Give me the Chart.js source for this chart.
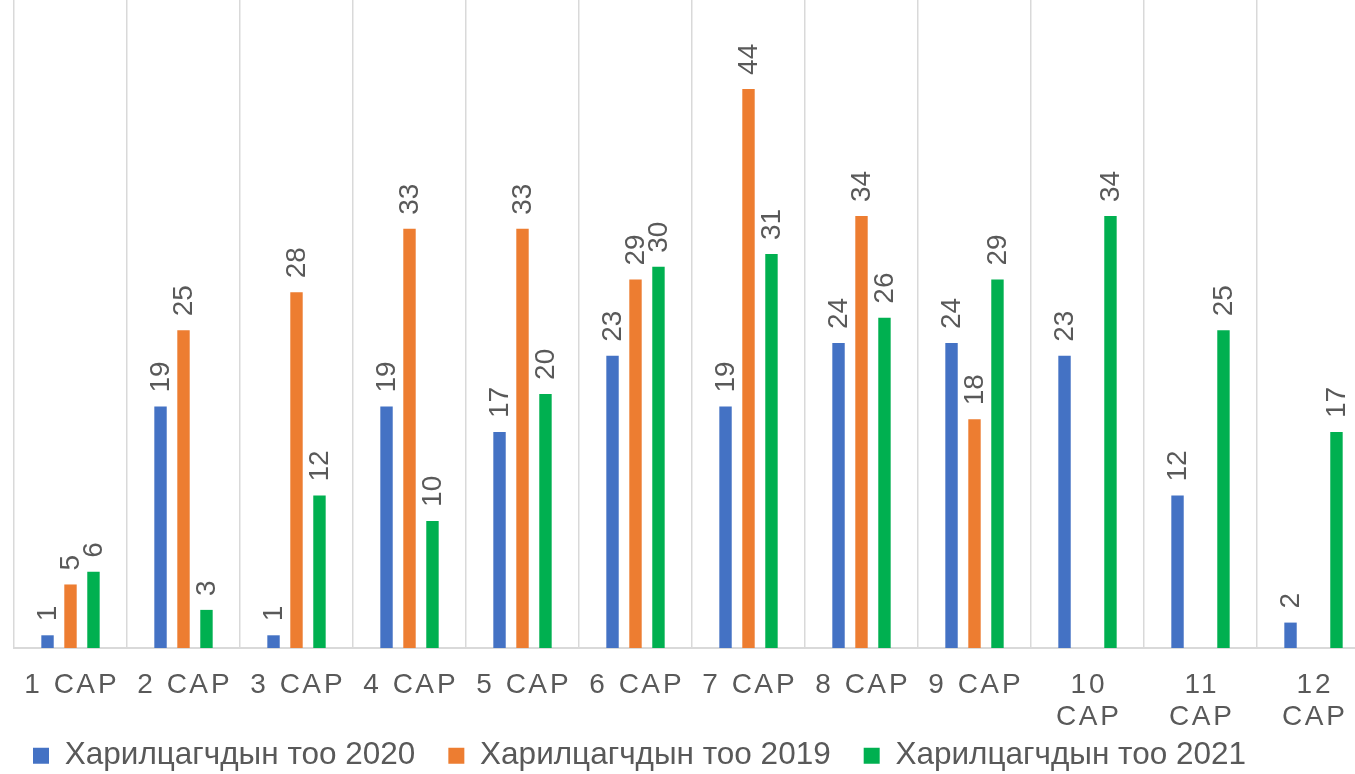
<!DOCTYPE html>
<html lang="mn">
<head>
<meta charset="utf-8">
<title>Харилцагчдын тоо</title>
<script src="https://cdn.jsdelivr.net/npm/chart.js@4.4.1/dist/chart.umd.min.js"></script>
<style>
    html, body { margin: 0; padding: 0; background: #ffffff; overflow: hidden; }
    .grafico { position: relative; width: 1370px; height: 774px; }
</style>
</head>
<body>
<div class="grafico">
    <canvas id="graficoBarras"></canvas>
</div>
<script>
// сарууд (ангилал)
const saruud = ['1 САР', '2 САР', '3 САР', '4 САР', '5 САР', '6 САР', '7 САР', '8 САР', '9 САР',
    ['10', 'САР'], ['11', 'САР'], ['12', 'САР']];

// цуврал бүрийн утга
const too2020 = [1, 19, 1, 19, 17, 23, 19, 24, 24, 23, 12, 2];
const too2019 = [5, 25, 28, 33, 33, 29, 44, 34, 18, null, null, null];
const too2021 = [6, 3, 12, 10, 20, 30, 31, 26, 29, 34, 25, 17];

const neruud = ['Харилцагчдын тоо 2020', 'Харилцагчдын тоо 2019', 'Харилцагчдын тоо 2021'];
const ongonuud = ['#4472C4', '#ED7D31', '#00B050'];

const fonte = '"Liberation Sans", Arial, sans-serif';
const saaral = '#595959';

// rotulos verticais acima das barras
const rotuloBarras = {
    id: 'rotuloBarras',
    afterDatasetsDraw(chart) {
        const ctx = chart.ctx;
        ctx.save();
        ctx.font = '28px ' + fonte;
        ctx.fillStyle = saaral;
        ctx.textAlign = 'left';
        ctx.textBaseline = 'middle';
        chart.data.datasets.forEach((ds, i) => {
            chart.getDatasetMeta(i).data.forEach((barra, j) => {
                const v = ds.data[j];
                if (v === null || v === undefined) return;
                ctx.save();
                ctx.translate(barra.x + 1, barra.y - 14);
                ctx.rotate(-Math.PI / 2);
                ctx.fillText(String(v), 0, 0);
                ctx.restore();
            });
        });
        ctx.restore();
    }
};

// espaçamento entre letras nos rótulos do eixo x (e sem recorte da 2a linha)
const espacoLetras = {
    id: 'espacoLetras',
    afterUpdate(chart) {
        const x = chart.scales.x;
        if (x && !x._espacado) {
            const original = x.drawLabels;
            x._computeLabelArea = function () {
                return { top: this.top, left: 0, bottom: this.chart.height, right: this.chart.width };
            };
            x.drawLabels = function (area) {
                this.ctx.save();
                this.ctx.letterSpacing = '3px';
                this.ctx.translate(1.5, 0);
                original.call(this, area);
                this.ctx.restore();
            };
            x._espacado = true;
        }
    }
};

const datasets = [too2020, too2019, too2021].map((serie, i) => ({
    label: neruud[i],
    data: serie,
    backgroundColor: ongonuud[i],
    borderWidth: 0,
    categoryPercentage: 0.61,
    barPercentage: 0.54,
}));

new Chart(document.getElementById('graficoBarras'), {
    type: 'bar',
    data: { labels: saruud, datasets: datasets },
    options: {
        responsive: true,
        maintainAspectRatio: false,
        animation: false,
        layout: { padding: 0 },
        plugins: {
            tooltip: { enabled: false },
            legend: {
                position: 'bottom',
                align: 'start',
                maxHeight: 67,
                labels: {
                    boxWidth: 16,
                    boxHeight: 16,
                    padding: 33,
                    color: saaral,
                    font: { size: 31.5, family: fonte }
                }
            }
        },
        scales: {
            x: {
                grid: { color: '#d9d9d9', lineWidth: 1.5, drawTicks: false, offset: true },
                border: { color: '#d9d9d9', width: 2 },
                ticks: {
                    color: saaral,
                    padding: 22,
                    autoSkip: false,
                    maxRotation: 0,
                    minRotation: 0,
                    font: { size: 28, family: fonte, lineHeight: 1.12 }
                },
                afterFit: (escala) => { escala.height = 59; }
            },
            y: {
                min: 0,
                max: 51,
                grid: { display: false },
                border: { display: false },
                ticks: { display: false },
                afterFit: (escala) => { escala.width = 14; }
            }
        }
    },
    plugins: [rotuloBarras, espacoLetras]
});
</script>
</body>
</html>
